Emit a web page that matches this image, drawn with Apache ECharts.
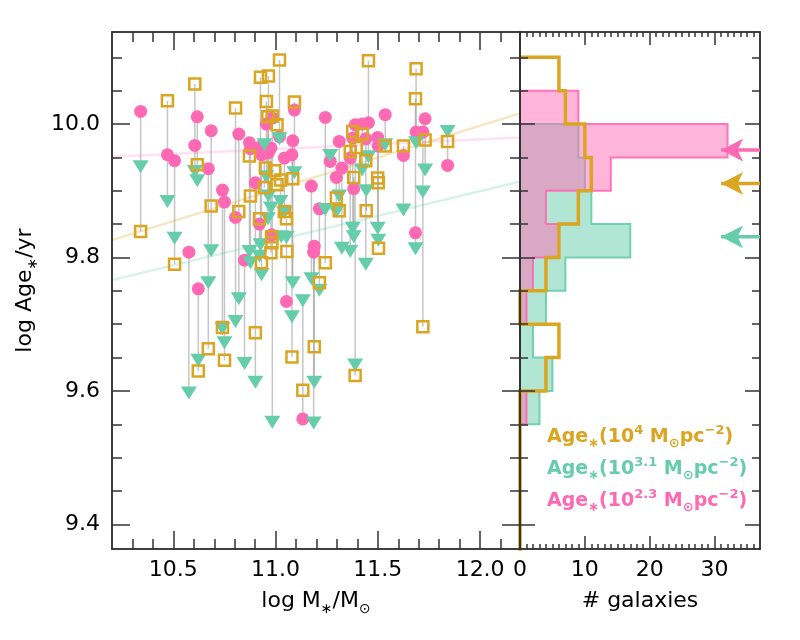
<!DOCTYPE html>
<html>
<head>
<meta charset="utf-8">
<script src="https://cdn.jsdelivr.net/npm/echarts@6/dist/echarts.min.js"></script>
<style>html,body{margin:0;padding:0;background:#fff}#chart{width:800px;height:640px}</style>
</head>
<body>
<div id="chart"></div>
<script>
var FONT = 'DejaVu Sans';
var PINK = '#FF69B4', GREEN = '#66CDAA', GOLD = '#DAA520', AXIS = '#333';

// one entry per galaxy: stellar mass and the three age estimates (null = not drawn)
var logMass = [10.340, 10.471, 10.506, 10.576, 10.605, 10.617, 10.622, 10.671, 10.685, 10.740,
  10.750, 10.804, 10.820, 10.848, 10.872, 10.877, 10.901, 10.926, 10.921, 10.931,
  10.955, 10.984, 10.965, 10.945, 10.962, 10.950, 10.980, 10.977, 10.982, 11.007,
  10.996, 11.007, 11.019, 11.024, 11.028, 11.043, 11.053, 11.055, 11.092, 11.084,
  11.080, 11.133, 11.175, 11.189, 11.186, 11.214, 11.243, 11.267, 11.297, 11.311,
  11.324, 11.365, 11.377, 11.382, 11.389, 11.394, 11.423, 11.441, 11.454, 11.443,
  11.499, 11.502, 11.503, 11.536, 11.625, 11.687, 11.684, 11.731, 11.720, 11.841];
// Age*(10^2.3)
var agePink = [10.019, 9.954, 9.945, 9.808, 9.968, 10.011, 9.753, 9.933, 9.990, 9.901,
  9.883, 9.860, 9.985, 9.796, 9.972, 9.963, 9.912, 9.966, 9.850, 9.954,
  10.000, 10.009, 9.957, null, null, null, 9.834, 9.964, null, null,
  null, null, 9.981, null, null, 9.949, 9.734, null, 10.021, 9.975,
  9.954, 9.558, 9.907, 9.817, 9.808, 9.873, 10.010, 9.944, 9.920, 9.974,
  9.934, 9.949, 9.979, 9.903, 9.999, null, 10.000, 9.978, 10.002, null,
  9.980, 9.967, null, 10.014, 9.953, 9.988, 9.837, 10.008, 9.988, 9.938];
// Age*(10^3.1)
var ageGreen = [9.936, 9.884, 9.829, 9.597, 9.929, 9.915, 9.646, 9.762, 9.810, 9.693,
  9.672, 9.704, 9.738, 9.641, 9.809, 9.792, 9.613, 9.819, 9.802, 9.774,
  9.921, 9.553, 9.892, 9.969, 9.858, null, null, 9.874, null, null,
  null, null, 9.978, 9.884, 9.831, 9.867, 9.830, null, 9.927, 9.762,
  9.711, 9.735, 9.768, 9.613, 9.552, 9.751, 9.872, 9.953, 9.868, 9.892,
  9.814, 9.809, 9.844, 9.831, 9.639, null, 9.931, 9.790, 9.951, 9.900,
  9.844, 9.826, null, 9.969, 9.871, 9.972, 9.813, 9.931, 9.898, 9.989];
// Age*(10^4)
var ageGold = [9.839, 10.035, 9.790, null, 10.060, 9.939, 9.630, 9.663, 9.877, 9.695,
  9.646, 10.024, 9.869, null, 9.952, 9.892, 9.687, 10.070, 9.858, 9.792,
  10.034, 10.012, 10.072, 9.905, 10.011, 9.934, 9.831, 9.807, 9.822, 9.999,
  9.930, 9.909, 10.096, 9.916, null, 9.869, 9.858, 9.809, 10.033, 9.918,
  9.651, 9.601, null, 9.666, null, 9.762, 9.792, null, 9.889, 9.870,
  null, 9.959, 9.989, 9.920, 9.623, 9.965, 9.985, 9.945, 10.095, 9.870,
  9.919, 9.912, 9.814, 9.967, 9.967, 10.083, 10.038, 9.976, 9.696, 9.974];

// faint trend lines
var fitMass = [10.2, 12.195];
var fitPink = [9.951, 9.980];
var fitGold = [9.826, 10.016];
var fitGreen = [9.766, 9.914];

// histograms (bins of 0.05 dex)
var binEdges = [9.55, 9.60, 9.65, 9.70, 9.75, 9.80, 9.85, 9.90, 9.95, 10.00, 10.05, 10.10];
var histPink = [1, 0, 0, 1, 2, 6, 4, 14, 32, 9, 0];
var histGreen = [3, 5, 2, 4, 7, 17, 11, 10, 9, 0, 0];
var histGold = [0, 4, 6, 0, 4, 6, 9, 11, 10, 7, 6];

// median arrows
var medPink = 9.961, medGold = 9.911, medGreen = 9.831;
var arrowTail = 37, arrowHead = 31;

// axes
var massRange = [10.2, 12.195], ageRange = [9.363, 10.138], countRange = [0, 37];
var massTicks = [10.5, 11.0, 11.5, 12.0];
var ageTicks = [9.4, 9.6, 9.8, 10.0];
var countTicks = [0, 10, 20, 30];

function range(a, b, step) {
  var out = [];
  for (var v = a; v <= b + 1e-9; v += step) out.push(+v.toFixed(4));
  return out;
}
function without(list, majors) {
  return list.filter(function (v) {
    return majors.every(function (m) { return Math.abs(m - v) > 1e-6; });
  });
}
var massMinor = without(range(10.3, 12.1, 0.1), massTicks);
var ageMinor = without(range(9.4, 10.1, 0.05), ageTicks);
var countMinor = without(range(1, 36, 1), countTicks);

function axis(grid, pos, ext, ticks, len, extra) {
  var a = {
    type: 'value', gridIndex: grid, position: pos, min: ext[0], max: ext[1],
    axisLine: {show: true, onZero: false, lineStyle: {color: AXIS, width: 1.5}},
    axisTick: {show: true, inside: true, length: len, customValues: ticks,
      lineStyle: {color: AXIS, width: 1.5}},
    axisLabel: {show: false},
    splitLine: {show: false},
    z: 5
  };
  return Object.assign(a, extra || {});
}
function labels(ticks, fmt, margin) {
  return {show: true, customValues: ticks, formatter: fmt, margin: margin,
    fontSize: 22, fontFamily: FONT, color: '#000'};
}
var subRich = {s: {fontSize: 14, fontFamily: FONT, color: '#000', verticalAlign: 'bottom', lineHeight: 16}};
function nameStyle() {
  return {fontSize: 22, fontFamily: FONT, color: '#000', lineHeight: 30, rich: subRich};
}
var fmt1 = function (v) { return v.toFixed(1); };
var fmt0 = function (v) { return String(Math.round(v)); };

var xAxes = [
  axis(0, 'bottom', massRange, massTicks, 18, {axisLabel: labels(massTicks, fmt1, 10),
    name: 'log M{s|∗}/M{s|⊙}', nameLocation: 'middle', nameGap: 34, nameTextStyle: nameStyle()}),
  axis(0, 'bottom', massRange, massMinor, 10),
  axis(0, 'top', massRange, massTicks, 18),
  axis(0, 'top', massRange, massMinor, 10),
  axis(1, 'bottom', countRange, countTicks, 13, {axisLabel: labels(countTicks, fmt0, 10),
    name: '# galaxies', nameLocation: 'middle', nameGap: 34, nameTextStyle: nameStyle()}),
  axis(1, 'bottom', countRange, countMinor, 5),
  axis(1, 'top', countRange, countTicks, 13),
  axis(1, 'top', countRange, countMinor, 5)
];
var yAxes = [
  axis(0, 'left', ageRange, ageTicks, 18, {axisLabel: labels(ageTicks, fmt1, 12),
    name: 'log Age{s|∗}/yr', nameLocation: 'middle', nameGap: 65, nameTextStyle: nameStyle()}),
  axis(0, 'left', ageRange, ageMinor, 10),
  axis(0, 'right', ageRange, ageTicks, 18),
  axis(0, 'right', ageRange, ageMinor, 10),
  axis(1, 'left', ageRange, ageTicks, 15),
  axis(1, 'left', ageRange, ageMinor, 8),
  axis(1, 'right', ageRange, ageTicks, 15),
  axis(1, 'right', ageRange, ageMinor, 8)
];

function points(ages) {
  var out = [];
  for (var i = 0; i < logMass.length; i++) if (ages[i] != null) out.push([logMass[i], ages[i]]);
  return out;
}
var linkData = [];
for (var i = 0; i < logMass.length; i++) {
  var v = [agePink[i], ageGreen[i], ageGold[i]].filter(function (a) { return a != null; });
  if (v.length > 1) linkData.push([logMass[i], Math.min.apply(null, v), Math.max.apply(null, v)]);
}

function fitLine(ages, color) {
  return {type: 'line', xAxisIndex: 0, yAxisIndex: 0, symbol: 'none', silent: true, z: 1,
    data: [[fitMass[0], ages[0]], [fitMass[1], ages[1]]],
    lineStyle: {color: color, width: 2.5}};
}
function stepPath(edges, counts, floor) {
  var pts = [];
  if (floor != null) pts.push([0, floor]);
  pts.push([0, edges[0]]);
  for (var i = 0; i < counts.length; i++) {
    pts.push([counts[i], edges[i]], [counts[i], edges[i + 1]]);
  }
  pts.push([0, edges[edges.length - 1]]);
  return pts;
}
function histPolygon(counts, fill, stroke) {
  var path = stepPath(binEdges, counts);
  return {
    type: 'custom', xAxisIndex: 4, yAxisIndex: 4, silent: true, z: 2,
    data: path, encode: {x: 0, y: 1},
    renderItem: function (params, api) {
      if (params.dataIndex !== 0) return null;
      var pts = path.map(function (p) { return api.coord(p); });
      return {type: 'polygon', shape: {points: pts},
        style: {fill: fill, stroke: stroke, lineWidth: 2, lineJoin: 'miter'}};
    }
  };
}
function arrow(y, color) {
  return {
    type: 'line', xAxisIndex: 4, yAxisIndex: 4, silent: true, z: 6,
    data: [
      {value: [arrowTail, y], symbol: 'none'},
      {value: [arrowHead, y], symbol: 'arrow', symbolSize: [17, 22], symbolRotate: 90}
    ],
    lineStyle: {color: color, width: 3.5}, itemStyle: {color: color}
  };
}

var series = [
  fitLine(fitPink, 'rgba(255,105,180,0.2)'),
  fitLine(fitGold, 'rgba(218,165,32,0.28)'),
  fitLine(fitGreen, 'rgba(102,205,170,0.26)'),
  {
    type: 'custom', xAxisIndex: 0, yAxisIndex: 0, silent: true, z: 1,
    data: linkData, encode: {x: 0, y: [1, 2]},
    renderItem: function (params, api) {
      var a = api.coord([api.value(0), api.value(1)]);
      var b = api.coord([api.value(0), api.value(2)]);
      return {type: 'line', shape: {x1: a[0], y1: a[1], x2: b[0], y2: b[1]},
        style: {stroke: 'rgba(128,128,128,0.45)', lineWidth: 1.5}};
    }
  },
  {type: 'scatter', xAxisIndex: 0, yAxisIndex: 0, z: 2, data: points(agePink),
    symbol: 'circle', symbolSize: 13, itemStyle: {color: PINK, opacity: 1}},
  {type: 'scatter', xAxisIndex: 0, yAxisIndex: 0, z: 2, data: points(ageGreen),
    symbol: 'triangle', symbolSize: [16, 13], symbolRotate: 180, itemStyle: {color: GREEN, opacity: 1}},
  {type: 'scatter', xAxisIndex: 0, yAxisIndex: 0, z: 2, data: points(ageGold),
    symbol: 'rect', symbolSize: 11,
    itemStyle: {color: 'rgba(0,0,0,0)', borderColor: GOLD, borderWidth: 2.5, opacity: 1}},
  histPolygon(histGreen, 'rgba(102,205,170,0.5)', 'rgba(102,205,170,0.9)'),
  histPolygon(histPink, 'rgba(255,105,180,0.5)', 'rgba(255,105,180,0.9)'),
  {type: 'line', xAxisIndex: 4, yAxisIndex: 4, symbol: 'none', silent: true, z: 3,
    data: stepPath(binEdges, histGold, 9.30),
    lineStyle: {color: GOLD, width: 3.5, join: 'miter'}},
  arrow(medPink, PINK),
  arrow(medGold, GOLD),
  arrow(medGreen, GREEN)
];

function legendText(label, color, top) {
  var tok = {fontSize: 13, fontWeight: 'bold', fontFamily: FONT, fill: color, lineHeight: 13};
  return {
    type: 'text', left: 547, top: top, z: 10, silent: true,
    style: {
      text: label, fill: color, fontSize: 19, fontWeight: 'bold', fontFamily: FONT, lineHeight: 26,
      rich: {
        p: Object.assign({verticalAlign: 'top'}, tok),
        s: Object.assign({verticalAlign: 'bottom'}, tok)
      }
    }
  };
}

var chart = echarts.init(document.getElementById('chart'));
chart.setOption({
  animation: false,
  backgroundColor: '#fff',
  grid: [
    {left: 112, top: 32, width: 408, height: 517, outerBoundsMode: 'none'},
    {left: 520, top: 32, width: 240, height: 517, outerBoundsMode: 'none'}
  ],
  xAxis: xAxes,
  yAxis: yAxes,
  series: series,
  graphic: [
    legendText('Age{s|∗}(10{p|4} M{s|⊙}pc{p|−2})', GOLD, 424),
    legendText('Age{s|∗}(10{p|3.1} M{s|⊙}pc{p|−2})', GREEN, 456),
    legendText('Age{s|∗}(10{p|2.3} M{s|⊙}pc{p|−2})', PINK, 488)
  ]
});
</script>
</body>
</html>
